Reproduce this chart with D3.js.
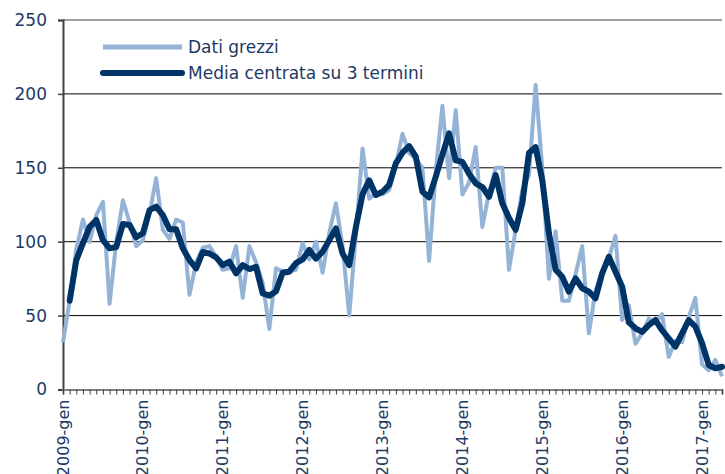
<!DOCTYPE html>
<html>
<head>
<meta charset="utf-8">
<script src="https://cdn.jsdelivr.net/npm/d3@7"></script>
<style>
  body { margin: 0; background: #fff; }
  svg { display: block; }
  text { font-family: "DejaVu Sans", Verdana, sans-serif; fill: #1b3a66; }
</style>
</head>
<body>
<script>
// monthly data, 2009-gen .. 2017-apr
var rawValues = [32, 60, 95, 115, 100, 118, 127, 58, 100, 128, 113, 97,
    101, 119, 143, 108, 102, 115, 113, 64, 86, 96, 97, 90,
    81, 82, 97, 62, 97, 86, 72, 41, 82, 80, 80, 81,
    99, 88, 100, 79, 106, 126, 97, 50, 105, 163, 129, 133,
    132, 135, 152, 173, 160, 156, 150, 87, 148, 192, 143, 189,
    132, 140, 164, 110, 133, 150, 150, 81, 108, 135, 145, 206,
    150, 75, 107, 60, 60, 78, 97, 38, 67, 80, 89, 104,
    47, 57, 31, 38, 48, 45, 51, 22, 33, 32, 49, 62,
    17, 13, 20, 9];
var avgValues = [null, 60, 87.6, 99, 110, 114.7, 101, 95.5, 96.4, 112, 111.3, 103,
    105.7, 121.4, 123.7, 118, 108.4, 108.4, 95.5, 87.6, 82, 93, 92, 89.4,
    84.2, 86.5, 78.6, 84.2, 81.5, 83, 65, 63.5, 66.5, 79, 79.7, 85.5,
    88, 94.4, 88.5, 93.2, 101, 109, 92, 84.2, 110, 132, 141.5, 131.6,
    133.8, 138.4, 153, 160.2, 164.7, 157.5, 133.8, 130, 144, 159, 173.3, 155,
    154, 146, 139.5, 137, 130.4, 145, 126, 116, 108, 126, 160, 164,
    141.7, 105.7, 81, 76.3, 66.2, 75.2, 68.5, 66.2, 61.7, 78.6, 89.8, 79.7,
    69.6, 45.5, 41.4, 39, 43.6, 47, 40, 34.6, 29, 38, 47, 42.5,
    31.3, 16.6, 14.3, 15.4];
var yearLabels = ["2009-gen", "2010-gen", "2011-gen", "2012-gen", "2013-gen",
    "2014-gen", "2015-gen", "2016-gen", "2017-gen"];
var yTicks = [0, 50, 100, 150, 200, 250];
var seriesNames = ["Dati grezzi", "Media centrata su 3 termini"];

var width = 725, height = 474;
var plotLeft = 63, plotRight = 722, plotTop = 20, plotBottom = 389.5;

var svg = d3.select("body").append("svg")
    .attr("width", width)
    .attr("height", height);

var x = d3.scaleLinear()
    .domain([0, rawValues.length - 1])
    .range([plotLeft, plotRight]);

var y = d3.scaleLinear()
    .domain([0, 250])
    .range([plotBottom, plotTop]);

// gridlines
svg.append("g")
    .selectAll("line")
    .data(yTicks.filter(function(d) { return d > 0; }))
    .enter().append("line")
    .attr("x1", plotLeft).attr("x2", plotRight)
    .attr("y1", function(d) { return y(d); })
    .attr("y2", function(d) { return y(d); })
    .attr("stroke", function(d) { return d === 250 ? "#808080" : "#000"; })
    .attr("stroke-width", function(d) { return d === 250 ? 1.5 : 1; });

// y axis
var axisY = svg.append("g")
    .attr("transform", "translate(" + plotLeft + ",0)")
    .call(d3.axisLeft(y).tickValues(yTicks).tickSize(5).tickPadding(11));
axisY.select(".domain").attr("stroke", "#404040").attr("stroke-width", 2);
axisY.selectAll(".tick line").attr("stroke", "#404040").attr("stroke-width", 1.5);
axisY.selectAll(".tick text")
    .attr("font-size", "17px")
    .attr("font-family", "DejaVu Sans, Verdana, sans-serif")
    .attr("fill", "#1b3a66");

// x axis, one tick per month
var axisX = svg.append("g")
    .attr("transform", "translate(0," + plotBottom + ")")
    .call(d3.axisBottom(x).tickValues(d3.range(rawValues.length)).tickSize(5).tickFormat(""));
axisX.select(".domain").attr("stroke", "#808080").attr("stroke-width", 2);
axisX.selectAll(".tick line").attr("stroke", "#404040").attr("stroke-width", 1);

svg.append("g")
    .selectAll("text")
    .data(yearLabels)
    .enter().append("text")
    .attr("transform", function(d, i) {
        return "translate(" + (x(i * 12) + 5.5) + "," + (plotBottom + 10) + ") rotate(-90)";
    })
    .attr("text-anchor", "end")
    .attr("font-size", "16px")
    .text(function(d) { return d; });

// lines
var rawLine = d3.line()
    .x(function(d, i) { return x(i); })
    .y(function(d) { return y(d); });

var avgLine = d3.line()
    .defined(function(d) { return d !== null; })
    .x(function(d, i) { return x(i); })
    .y(function(d) { return y(d); });

svg.append("path")
    .datum(rawValues)
    .attr("fill", "none")
    .attr("stroke", "#95b3d7")
    .attr("stroke-width", 4)
    .attr("stroke-linejoin", "round")
    .attr("d", rawLine);

svg.append("path")
    .datum(avgValues)
    .attr("fill", "none")
    .attr("stroke", "#003466")
    .attr("stroke-width", 6)
    .attr("stroke-linejoin", "round")
    .attr("stroke-linecap", "round")
    .attr("d", avgLine);

// legend
var legend = svg.append("g");
var legendColors = ["#95b3d7", "#003466"];
var legendWidths = [5, 6];
seriesNames.forEach(function(name, i) {
    var ly = 47 + i * 26;
    legend.append("line")
        .attr("x1", 103).attr("x2", 182)
        .attr("y1", ly).attr("y2", ly)
        .attr("stroke", legendColors[i])
        .attr("stroke-width", legendWidths[i])
        .attr("stroke-linecap", i === 1 ? "round" : "butt");
    legend.append("text")
        .attr("x", 188)
        .attr("y", ly + 6)
        .attr("font-size", "17px")
        .text(name);
});
</script>
</body>
</html>
